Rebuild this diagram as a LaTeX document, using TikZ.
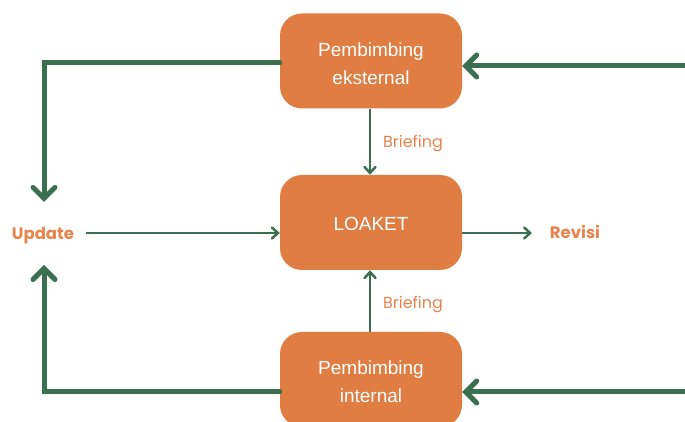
\documentclass[tikz,border=0pt]{standalone}
\usepackage{fontspec}
\setmainfont{Liberation Sans}
\newfontfamily\popfont{Poppins}
\usetikzlibrary{arrows.meta}
\definecolor{boxorange}{HTML}{E07D42}
\definecolor{linegreen}{HTML}{3A6F50}
\definecolor{labelorange}{HTML}{E8834C}
\begin{document}
\begin{tikzpicture}[x=1pt,y=1pt,
  box/.style={fill=boxorange, rounded corners=22pt, minimum width=182pt, minimum height=95pt,
    inner sep=0pt, text=white, font=\fontsize{19}{28}\selectfont, align=center},
  boxtext/.style={text=white, font=\fontsize{19}{28}\selectfont, align=center, inner sep=0pt},
  thickline/.style={draw=linegreen, line width=5pt, line cap=round, line join=miter,
    -{Straight Barb[length=11pt, width=22pt, line width=5pt, line cap=round]}},
  thinline/.style={draw=linegreen, line width=2.5pt,
    -{Straight Barb[length=6pt, width=11pt, line width=2.5pt, line cap=round]}},
  lbl/.style={text=labelorange, font=\popfont\fontsize{16}{18}\selectfont, inner sep=0pt},
  boldlbl/.style={text=labelorange, font=\popfont\bfseries\fontsize{16.5}{18}\selectfont, inner sep=0pt, anchor=base}
]
\useasboundingbox (0,0) rectangle (685,422);
\clip (0,0) rectangle (685,422);

\node[box] (ext) at (371,361) {};
\node[boxtext] (exttext) at (371,358) {Pembimbing\\eksternal};
\node[box] (loket) at (371,199.5) {};
\node[boxtext] (lokettext) at (371,198) {LOAKET};
\node[box] (int) at (371,42.5) {};
\node[boxtext] (inttext) at (371,40) {Pembimbing\\internal};

\node[boldlbl] (update) at (43,182) {Update};
\node[boldlbl] (revisi) at (575,183) {Revisi};
\node[lbl] (b1) at (413,278) {Briefing};
\node[lbl] (b2) at (413,117) {Briefing};

\coordinate (tl) at (44,359);
\coordinate (tltip) at (44,220);
\coordinate (bl) at (44,30);
\coordinate (bltip) at (44,157);
\coordinate (tr) at (690,356);
\coordinate (br) at (690,30);
\coordinate (ustart) at (86,189);
\coordinate (rend) at (532,189);

% thick loops
\draw[thickline] (ext.west |- tl) -- (tl) -- (tltip);
\draw[thickline] (int.west |- bl) -- (bl) -- (bltip);
\draw[thickline] (tr) -- (ext.east |- tr);
\draw[thickline] (br) -- (int.east |- br);

% thin arrows
\draw[thinline] (ext.south -| 370,0) -- (loket.north -| 370,0);
\draw[thinline] (int.north -| 370,0) -- (loket.south -| 370,0);
\draw[thinline] (ustart) -- (loket.west |- ustart);
\draw[thinline] (loket.east |- ustart) -- (rend);
\end{tikzpicture}
\end{document}
